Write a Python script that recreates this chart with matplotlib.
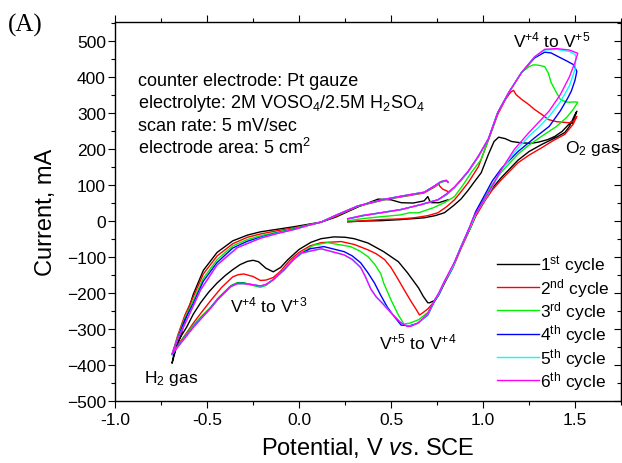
import matplotlib
matplotlib.use("Agg")
import matplotlib.pyplot as plt
from matplotlib.ticker import MultipleLocator

plt.rcParams['font.family'] = ['Liberation Sans', 'DejaVu Sans']
plt.rcParams['mathtext.fontset'] = 'custom'
plt.rcParams['mathtext.rm'] = 'Liberation Sans'
plt.rcParams['mathtext.it'] = 'Liberation Sans:italic'

# cyclic voltammograms, potential (V vs. SCE) and current (mA), one list per cycle
cyc1_v = [0.265, 0.35, 0.445, 0.55, 0.68, 0.74, 0.79, 0.84, 0.88, 0.92, 0.95, 0.99, 1.03, 1.06, 1.085, 1.12,
          1.155, 1.21, 1.26, 1.30, 1.35, 1.39, 1.43, 1.465, 1.48, 1.485, 1.50, 1.51,
          1.50, 1.47, 1.445, 1.40, 1.32, 1.25, 1.19, 1.10, 1.05, 1.01, 0.96, 0.93, 0.88, 0.835, 0.79, 0.76,
          0.735, 0.71, 0.70, 0.675, 0.65, 0.59, 0.54, 0.46, 0.375, 0.30, 0.25, 0.19, 0.12, 0.065, 0.0,
          -0.06, -0.10, -0.14, -0.18, -0.22, -0.25, -0.28, -0.32, -0.36, -0.40, -0.445, -0.49, -0.535,
          -0.575, -0.61, -0.64, -0.66, -0.69,
          -0.68, -0.645, -0.61, -0.575, -0.52, -0.445, -0.36, -0.28, -0.21, -0.12, -0.03, 0.05, 0.12, 0.2,
          0.32, 0.43, 0.50, 0.555, 0.62, 0.68, 0.70, 0.71, 0.72, 0.76, 0.81]
cyc1_i = [-3, -1, 0, 3, 8, 14, 22, 42, 60, 85, 106, 133, 185, 220, 232, 228,
          220, 216, 215, 218, 225, 234, 248, 267, 275, 270, 290, 304,
          295, 262, 245, 232, 212, 192, 168, 120, 90, 58, 15, -22, -75, -130, -172, -205,
          -222, -228, -228, -210, -187, -145, -114, -86, -62, -50, -46, -45, -50, -60, -80,
          -108, -130, -142, -132, -114, -110, -113, -122, -136, -152, -173, -198, -228,
          -260, -295, -320, -340, -396,
          -370, -323, -262, -205, -138, -88, -56, -40, -31, -24, -17, -10, -4, 10,
          38, 60, 58, 50, 49, 55, 67, 55, 50, 50, 58]

cyc2_v = [0.265, 0.35, 0.445, 0.55, 0.625, 0.70, 0.755, 0.80, 0.845, 0.88, 0.92, 0.975, 1.03, 1.08, 1.12,
          1.15, 1.166, 1.18, 1.21, 1.25, 1.28, 1.32, 1.355, 1.40, 1.445, 1.47, 1.49, 1.50, 1.51,
          1.49, 1.445, 1.38, 1.32, 1.25, 1.19, 1.10, 1.05, 1.01, 0.96, 0.92, 0.88, 0.835, 0.79, 0.76,
          0.735, 0.70, 0.675, 0.655, 0.635, 0.61, 0.575, 0.54, 0.50, 0.465, 0.42, 0.375, 0.30, 0.23,
          0.12, 0.06, 0.0, -0.05, -0.10, -0.14, -0.18, -0.21, -0.25, -0.30, -0.33, -0.36, -0.42, -0.48,
          -0.535, -0.575, -0.62, -0.65, -0.69,
          -0.66, -0.62, -0.575, -0.52, -0.445, -0.36, -0.28, -0.21, -0.12, -0.03, 0.05, 0.12, 0.2, 0.32,
          0.46, 0.555, 0.68, 0.735, 0.76, 0.765, 0.78, 0.81]
cyc2_i = [-3, 0, 3, 5, 8, 14, 22, 38, 58, 80, 106, 150, 225, 295, 335,
          357, 362, 350, 337, 322, 309, 295, 281, 275, 273, 272, 276, 282, 290,
          268, 240, 222, 203, 182, 161, 114, 85, 55, 12, -33, -78, -132, -175, -205,
          -225, -245, -255, -262, -245, -225, -195, -164, -130, -108, -92, -81, -66, -58,
          -61, -70, -88, -110, -140, -158, -165, -166, -155, -148, -150, -156, -185, -222,
          -258, -285, -318, -340, -372,
          -320, -262, -212, -148, -98, -64, -46, -37, -28, -20, -12, -4, 12, 40,
          58, 66, 77, 93, 102, 96, 88, 81]

cyc3_v = [0.265, 0.35, 0.445, 0.55, 0.60, 0.65, 0.73, 0.79, 0.845, 0.89, 0.935, 0.99, 1.03, 1.08, 1.14,
          1.21, 1.25, 1.275, 1.30, 1.335, 1.355, 1.37, 1.40, 1.42, 1.45, 1.47, 1.50, 1.515,
          1.49, 1.455, 1.40, 1.32, 1.25, 1.19, 1.10, 1.05, 1.01, 0.96, 0.93, 0.88, 0.835, 0.79, 0.76,
          0.735, 0.70, 0.65, 0.60, 0.57, 0.54, 0.50, 0.46, 0.445, 0.41, 0.375, 0.33, 0.28, 0.155, 0.08,
          0.01, -0.03, -0.08, -0.14, -0.18, -0.21, -0.25, -0.30, -0.335, -0.37, -0.40, -0.44, -0.48,
          -0.535, -0.575, -0.645, -0.69,
          -0.66, -0.62, -0.575, -0.52, -0.445, -0.36, -0.28, -0.21, -0.12, -0.03, 0.05, 0.12, 0.2, 0.32,
          0.46, 0.555, 0.68, 0.735, 0.77, 0.80, 0.81]
cyc3_i = [0, 6, 11, 16, 22, 22, 36, 50, 67, 98, 133, 170, 226, 300, 356,
          412, 428, 433, 432, 428, 410, 384, 355, 337, 330, 329, 330, 329,
          309, 287, 262, 235, 210, 185, 135, 100, 65, 20, -20, -75, -130, -172, -205,
          -225, -255, -275, -285, -287, -262, -220, -173, -148, -120, -100, -84, -72, -61, -68,
          -90, -106, -134, -164, -180, -185, -180, -172, -172, -180, -195, -215, -240,
          -268, -290, -338, -372,
          -325, -270, -222, -160, -108, -70, -52, -42, -32, -22, -12, -4, 14, 40,
          58, 67, 78, 95, 106, 111, 106]

cyc4_v = [0.265, 0.35, 0.445, 0.555, 0.665, 0.755, 0.80, 0.845, 0.88, 0.92, 0.975, 1.03, 1.08, 1.14, 1.21,
          1.28, 1.335, 1.37, 1.40, 1.45, 1.49, 1.50, 1.51,
          1.50, 1.48, 1.46, 1.42, 1.36, 1.28, 1.19, 1.10, 1.05, 1.01, 0.96, 0.93, 0.88, 0.835, 0.79, 0.76,
          0.735, 0.70, 0.645, 0.60, 0.555, 0.52, 0.48, 0.445, 0.41, 0.375, 0.335, 0.29, 0.245, 0.135, 0.06,
          0.01, -0.03, -0.08, -0.14, -0.18, -0.21, -0.25, -0.30, -0.335, -0.37, -0.40, -0.44, -0.48,
          -0.535, -0.575, -0.645, -0.69,
          -0.66, -0.62, -0.575, -0.52, -0.445, -0.36, -0.28, -0.21, -0.12, -0.03, 0.05, 0.12, 0.2, 0.32,
          0.46, 0.555, 0.68, 0.735, 0.77, 0.80, 0.81]
cyc4_i = [5, 14, 22, 31, 45, 58, 72, 92, 112, 136, 178, 228, 300, 356, 412,
          452, 468, 466, 458, 445, 434, 425, 415,
          390, 360, 340, 305, 262, 230, 192, 145, 110, 72, 25, -15, -72, -128, -172, -205,
          -225, -262, -285, -292, -290, -268, -240, -208, -173, -145, -117, -98, -86, -72, -78,
          -92, -108, -136, -164, -178, -182, -178, -174, -174, -182, -197, -217, -242,
          -272, -295, -340, -372,
          -328, -275, -230, -168, -116, -76, -57, -46, -34, -24, -13, -4, 15, 41,
          59, 68, 79, 96, 108, 112, 107]

cyc5_v = [0.27, 0.35, 0.445, 0.555, 0.665, 0.755, 0.80, 0.845, 0.88, 0.92, 0.975, 1.03, 1.08, 1.14, 1.21,
          1.28, 1.335, 1.40, 1.47, 1.50, 1.505,
          1.50, 1.47, 1.42, 1.36, 1.30, 1.25, 1.17, 1.10, 1.03, 0.96, 0.93, 0.88, 0.835, 0.79, 0.76,
          0.735, 0.70, 0.65, 0.61, 0.59, 0.55, 0.50, 0.45, 0.42, 0.39, 0.36, 0.335, 0.29, 0.245, 0.12,
          0.01, -0.03, -0.08, -0.14, -0.18, -0.21, -0.25, -0.30, -0.335, -0.37, -0.40, -0.44, -0.48,
          -0.535, -0.575, -0.645, -0.69,
          -0.66, -0.61, -0.535, -0.445, -0.335, -0.21, -0.12, -0.03, 0.05, 0.12, 0.2, 0.32,
          0.46, 0.555, 0.68, 0.735, 0.77, 0.80, 0.81]
cyc5_i = [6, 15, 22, 31, 45, 58, 73, 93, 113, 137, 179, 228, 300, 356, 412,
          455, 474, 476, 470, 462, 455,
          420, 375, 330, 290, 258, 235, 190, 140, 75, 18, -18, -73, -129, -170, -203,
          -223, -260, -284, -292, -293, -281, -256, -226, -212, -188, -153, -130, -107, -95, -78,
          -91, -108, -136, -164, -178, -182, -178, -175, -175, -183, -198, -218, -243,
          -273, -296, -341, -371,
          -329, -276, -193, -122, -74, -48, -35, -25, -13, -4, 15, 41,
          59, 68, 79, 96, 108, 112, 107]

cyc6_v = [0.27, 0.35, 0.445, 0.555, 0.665, 0.755, 0.80, 0.845, 0.88, 0.92, 0.975, 1.03, 1.08, 1.14, 1.21,
          1.28, 1.335, 1.40, 1.47, 1.515,
          1.50, 1.47, 1.42, 1.36, 1.30, 1.25, 1.17, 1.10, 1.03, 0.95, 0.91, 0.85, 0.79, 0.76,
          0.735, 0.70, 0.65, 0.61, 0.59, 0.55, 0.50, 0.45, 0.42, 0.39, 0.36, 0.335, 0.29, 0.245, 0.12,
          0.01, -0.03, -0.08, -0.14, -0.18, -0.21, -0.25, -0.30, -0.335, -0.37, -0.40, -0.44, -0.48,
          -0.535, -0.575, -0.645, -0.69,
          -0.66, -0.61, -0.535, -0.445, -0.335, -0.21, -0.12, -0.03, 0.05, 0.12, 0.2, 0.32,
          0.46, 0.555, 0.68, 0.735, 0.77, 0.80, 0.81]
cyc6_i = [6, 15, 22, 31, 45, 58, 74, 94, 114, 138, 180, 228, 300, 356, 412,
          455, 476, 478, 474, 465,
          440, 400, 350, 305, 272, 245, 198, 142, 78, 11, -40, -110, -168, -200,
          -222, -258, -283, -293, -294, -282, -256, -228, -212, -190, -155, -130, -108, -95, -78,
          -90, -108, -136, -164, -177, -181, -178, -175, -175, -183, -198, -218, -243,
          -274, -297, -342, -370,
          -330, -276, -192, -123, -75, -49, -36, -25, -13, -4, 15, 41,
          59, 68, 79, 96, 108, 112, 107]

cycle_labels = ['1$^{\\rm st}$ cycle', '2$^{\\rm nd}$ cycle', '3$^{\\rm rd}$ cycle',
                '4$^{\\rm th}$ cycle', '5$^{\\rm th}$ cycle', '6$^{\\rm th}$ cycle']
cycle_colors = ['#000000', '#ff0000', '#00f000', '#0000ff', '#00ffff', '#ff00ff']

fig = plt.figure(figsize=(6.22, 4.64), dpi=100)
ax = fig.add_axes([0.1849, 0.1343, 0.8135, 0.8162])

curves = [(cyc1_v, cyc1_i), (cyc2_v, cyc2_i), (cyc3_v, cyc3_i),
          (cyc4_v, cyc4_i), (cyc5_v, cyc5_i), (cyc6_v, cyc6_i)]
for (v, i), c, lab in zip(curves, cycle_colors, cycle_labels):
  ax.plot(v, i, '-', color=c, lw=1.0, label=lab)

ax.set_xlim(-1.0, 1.75)
ax.set_ylim(-500, 552)
ax.xaxis.set_major_locator(MultipleLocator(0.5))
ax.xaxis.set_minor_locator(MultipleLocator(0.25))
ax.yaxis.set_major_locator(MultipleLocator(100))
ax.yaxis.set_minor_locator(MultipleLocator(50))
ax.xaxis.set_major_formatter(matplotlib.ticker.FormatStrFormatter('%.1f'))
ax.tick_params(axis='x', which='both', direction='out', top=True, labelsize=12.5, pad=3)
ax.tick_params(axis='y', which='both', direction='out', labelsize=12.5, pad=1.5)
ax.tick_params(which='major', length=5, width=0.8)
ax.tick_params(which='minor', length=3, width=0.8)
for s in ax.spines.values():
  s.set_linewidth(1.0)

# right-hand ticks point inwards
sec = ax.secondary_yaxis('right')
sec.yaxis.set_major_locator(MultipleLocator(100))
sec.yaxis.set_minor_locator(MultipleLocator(50))
sec.tick_params(which='both', direction='in', labelright=False)
sec.tick_params(which='major', length=5, width=0.8)
sec.tick_params(which='minor', length=3, width=0.8)

ax.set_xlabel('Potential, V $\\mathit{vs}$. SCE', fontsize=17, labelpad=6)
ax.set_ylabel('Current, mA', fontsize=17, labelpad=7)

ax.text(-0.875, 376, 'counter electrode: Pt gauze', fontsize=13)
ax.text(-0.875, 315, 'electrolyte: 2M VOSO$_4$/2.5M H$_2$SO$_4$', fontsize=13)
ax.text(-0.875, 251, 'scan rate: 5 mV/sec', fontsize=13)
ax.text(-0.875, 189, 'electrode area: 5 cm$^2$', fontsize=13)

ax.text(1.165, 485, 'V$^{+4}$ to V$^{+5}$', fontsize=12.5)
ax.text(1.445, 192, 'O$_2$ gas', fontsize=12.5)
ax.text(-0.373, -253, 'V$^{+4}$ to V$^{+3}$', fontsize=12.5)
ax.text(0.435, -354, 'V$^{+5}$ to V$^{+4}$', fontsize=12.5)
ax.text(-0.842, -448, 'H$_2$ gas', fontsize=12.5)

ax.legend(loc='upper left', bbox_to_anchor=(0.755, 0.39), frameon=False, fontsize=12.5,
          handlelength=2.4, handletextpad=0.05, labelspacing=0.02, borderpad=0, borderaxespad=0)

fig.text(0.012, 1 - 25/464, '(A)', family='Liberation Serif', fontsize=18, va='center')

fig.savefig('out.png', dpi=100)
